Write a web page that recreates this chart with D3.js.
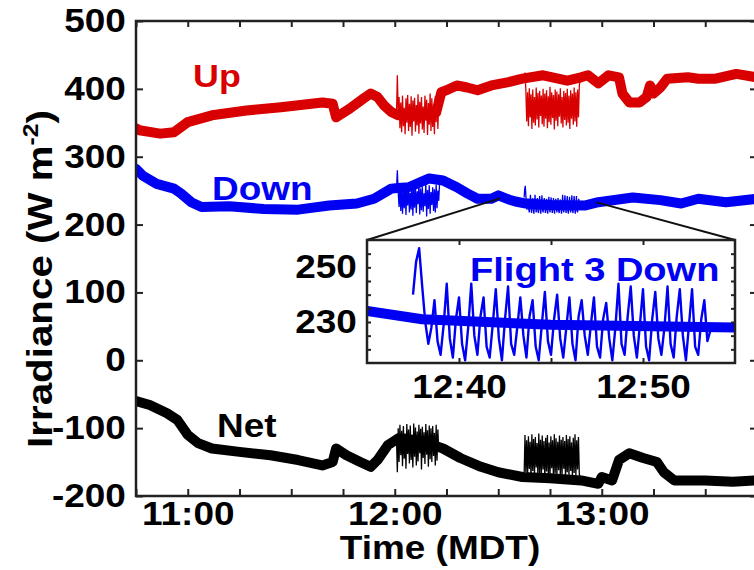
<!DOCTYPE html>
<html>
<head>
<meta charset="utf-8">
<script src="https://cdn.jsdelivr.net/npm/d3@7"></script>
<style>
  body { margin: 0; background: #fff; }
  svg text { font-family: "Liberation Sans", Arial, Helvetica, sans-serif; font-weight: bold; }
</style>
</head>
<body>
<div id="chart"></div>
<script>
// slow (thick) traces: [time MDT, W m-2]
var upBase = [["10:45",342],["10:46",339],["10:52",334],["10:56",336],["11:00",351],["11:07",361],["11:17",368],
  ["11:27",373],["11:39",380],["11:42",378],["11:43",358],["11:47",371],["11:51",386],["11:53",393],["11:55",388],
  ["11:57",375],["11:59",366],["12:01",361],["12:07",362],["12:12",365],["12:13:30",395],["12:15",398],["12:18",405],
  ["12:21",402],["12:24",398],["12:28",405],["12:33",410],["12:37",415],["12:43",420],["12:50",412],["12:54",417],
  ["12:56",420],["12:59",408],["13:02",420],["13:05",417],["13:06",393],["13:08",380],["13:11",380],["13:13",388],
  ["13:14",405],["13:15",393],["13:17",402],["13:19",415],["13:25",417],["13:28",415],["13:33",415],["13:39",422],["13:45",417]];
var downBase = [["10:45",282],["10:47",272],["10:51",260],["10:56",253],["10:58",246],["11:01",233],["11:04",226],
  ["11:12",227],["11:22",223],["11:32",222],["11:41",228],["11:49",231],["11:54",238],["11:59",253],["12:01",254],
  ["12:04",255],["12:10",268],["12:14",265],["12:18",255],["12:21",246],["12:24",238],["12:28",238],["12:30",243],
  ["12:33",237],["12:35",234],["12:38",231],["12:45",229],["12:55",228],["12:59",233],["13:09",240],["13:17",236],
  ["13:23",231],["13:28",238],["13:36",233],["13:45",238]];
var netBase = [["10:45",-60],["10:49",-66],["10:54",-78],["10:57",-88],["11:00",-110],["11:03",-122],["11:07",-130],
  ["11:15",-135],["11:24",-140],["11:32",-147],["11:39",-155],["11:42",-150],["11:43",-130],["11:46",-140],
  ["11:50",-150],["11:53",-157],["11:55",-147],["11:58",-125],["12:01",-115],["12:07",-118],["12:14",-130],
  ["12:19",-144],["12:25",-157],["12:30",-165],["12:37",-172],["12:45",-174],["12:54",-177],["12:59",-182],
  ["13:00",-172],["13:03",-177],["13:05",-147],["13:08",-137],["13:12",-144],["13:16",-150],["13:18",-165],
  ["13:21",-177],["13:30",-177],["13:38",-179],["13:45",-177]];

// fast traces during the two flights (thin lines), fixed sample step in seconds
var flight1Start = "12:00:30", flight1Step = 15;
var up1 = [360,420,365,388,342,380,336,390,345,372,333,386,350,391,338,378,344,389,331,383,352,387,337,376,346,
  392,334,381,349,388,340,374,335,390,353,384,332,379,347,393,338,386,344,377,333,389,351,395,341,385,398];
var down1 = [250,280,248,226,255,220,258,216,250,224,261,214,252,228,259,218,247,222,262,213,254,225,257,217,249,
  230,260,215,253,221,256,219,246,227,261,212,251,223,258,216,248,229,255,220,252,218,259,224,250,235,262];
var net1 = [-115,-165,-100,-150,-95,-140,-104,-156,-97,-145,-108,-160,-94,-138,-102,-152,-96,-147,-110,-158,-93,
  -142,-99,-155,-105,-149,-95,-137,-101,-161,-98,-144,-106,-153,-94,-139,-103,-157,-96,-146,-100,-150,-97,-141,
  -107,-155,-95,-148,-102,-135,-125];

var flight2Start = "12:37:30", flight2Step = 15, down2Step = 10;
var up2 = [410,424,398,352,395,345,401,358,392,341,399,350,388,346,402,355,394,343,397,360,390,348,400,344,393,
  356,398,342,389,351,403,347,395,357,391,340,399,353,396,345,392,359,401,349,388,343,397,354,394,346,400,350,
  390,341,398,356,393,347,402,352,395,344,399,358,405,412];
var net2 = [-170,-110,-165,-118,-172,-112,-160,-120,-175,-109,-163,-116,-170,-113,-158,-122,-174,-108,-166,-117,
  -171,-111,-161,-119,-176,-114,-164,-110,-169,-121,-173,-112,-159,-118,-175,-109,-167,-115,-170,-120,-162,-111,
  -174,-117,-168,-113,-160,-119,-176,-110,-165,-116,-171,-112,-163,-121,-173,-114,-166,-109,-170,-118,-161,-113,
  -168,-172];
var down2 = [240,252,257,243,230,222,228,
  238,223,218,229, 244,224,217,231, 239,222,216,228, 244,225,218,232, 239,221,217,229, 242,224,216,231,
  243,222,218,228, 239,225,217,232, 238,221,216,229, 241,223,218,231, 240,224,217,228, 239,222,216,232,
  238,225,218,229, 239,221,217,231, 237,224,216,228, 244,222,218,232, 243,225,217,229, 242,221,216,231,
  241,224,218,228, 243,222,217,232, 242,225,216,229, 242,221,218,231, 238,223,227];

var hourLabels = ["11:00","12:00","13:00"];
var yTicks = [-200,-100,0,100,200,300,400,500];
var insetXTicks = ["12:40","12:45","12:50"], insetXLabels = ["12:40","12:50"];
var insetYTicks = [220,225,230,235,240,245,250,255], insetYLabels = [230,250];
var zoomLinks = [["12:30:30",238.6],["12:58:30",232.7]];

var RED = "#d80000", BLUE = "#0000f2", BLACK = "#000";
var STRETCH = "scale(1.12,1)";

function tm(s) { var p = s.split(":"); return new Date(2013, 5, 1, +p[0], +p[1], +(p[2] || 0)); }
function base(arr) { return arr.map(function(d) { return [tm(d[0]), d[1]]; }); }
function seg(start, step, vals) {
  var t0 = tm(start).getTime();
  return vals.map(function(v, i) { return [new Date(t0 + i * step * 1000), v]; });
}

var series = [
  {base: base(upBase), fast: [seg(flight1Start, flight1Step, up1), seg(flight2Start, flight2Step, up2)], color: RED},
  {base: base(downBase), fast: [seg(flight1Start, flight1Step, down1), seg(flight2Start, down2Step, down2)], color: BLUE},
  {base: base(netBase), fast: [seg(flight1Start, flight1Step, net1), seg(flight2Start, flight2Step, net2)], color: BLACK}
];

var svg = d3.select("#chart").append("svg").attr("width", 754).attr("height", 570);

var x = d3.scaleTime().domain([tm("10:45"), tm("13:45")]).range([136, 757]);
var y = d3.scaleLinear().domain([-200, 500]).range([496, 21]);

svg.append("clipPath").attr("id", "clipMain").append("rect")
  .attr("x", 136).attr("y", 21).attr("width", 621).attr("height", 475);

var line = d3.line().x(function(d) { return x(d[0]); }).y(function(d) { return y(d[1]); });
var gMain = svg.append("g").attr("clip-path", "url(#clipMain)");

series.forEach(function(s) {
  gMain.append("path").datum(s.base).attr("d", line)
    .attr("fill", "none").attr("stroke", s.color).attr("stroke-width", 10)
    .attr("stroke-linejoin", "round").attr("stroke-linecap", "round");
  s.fast.forEach(function(f) {
    gMain.append("path").datum(f).attr("d", line)
      .attr("fill", "none").attr("stroke", s.color).attr("stroke-width", 1.3);
  });
});

// axes (ticks pointing inward on all four sides)
function styleAxis(g, size) {
  g.select(".domain").remove();
  g.selectAll("line").attr("stroke", "#222").attr("stroke-width", 2);
  g.selectAll("text").attr("font-size", size).attr("fill", "#000").attr("transform", STRETCH);
}
var minute15 = d3.timeMinute.every(15);
var fmt = d3.timeFormat("%H:%M");
var plain = function(d) { return String(d); };   // hyphen minus, like the original

svg.append("g").attr("transform", "translate(0,496)")
  .call(d3.axisBottom(x).ticks(minute15).tickSizeInner(-7).tickSizeOuter(0).tickPadding(6)
    .tickFormat(function(d) { var s = fmt(d); return hourLabels.indexOf(s) >= 0 ? s : ""; }))
  .call(styleAxis, 33);
svg.append("g").attr("transform", "translate(0,21)")
  .call(d3.axisTop(x).ticks(minute15).tickSizeInner(-6).tickSizeOuter(0).tickFormat(""))
  .call(styleAxis, 33);
svg.append("g").attr("transform", "translate(136,0)")
  .call(d3.axisLeft(y).tickValues(yTicks).tickSizeInner(-7).tickSizeOuter(0).tickPadding(9).tickFormat(plain))
  .call(styleAxis, 33);
svg.append("g").attr("transform", "translate(757,0)")
  .call(d3.axisRight(y).tickValues(yTicks).tickSizeInner(-7).tickSizeOuter(0).tickFormat(""))
  .call(styleAxis, 33);

svg.append("rect").attr("x", 136).attr("y", 21).attr("width", 621).attr("height", 475)
  .attr("fill", "none").attr("stroke", "#222").attr("stroke-width", 2.5);

// inset: Flight 3 downwelling
var xi = d3.scaleTime().domain([tm("12:35"), tm("12:55")]).range([367, 735]);
var yi = d3.scaleLinear().domain([215, 260]).range([363, 240]);

// connector lines from main trace to inset corners
var corners = [[367, 240], [735, 240]];
zoomLinks.forEach(function(z, i) {
  svg.append("line")
    .attr("x1", x(tm(z[0]))).attr("y1", y(z[1]))
    .attr("x2", corners[i][0]).attr("y2", corners[i][1])
    .attr("stroke", "#111").attr("stroke-width", 2);
});

svg.append("rect").attr("x", 367).attr("y", 240).attr("width", 368).attr("height", 123).attr("fill", "#fff");
svg.append("clipPath").attr("id", "clipInset").append("rect")
  .attr("x", 367).attr("y", 240).attr("width", 368).attr("height", 123);

var lineI = d3.line().x(function(d) { return xi(d[0]); }).y(function(d) { return yi(d[1]); });
var gIn = svg.append("g").attr("clip-path", "url(#clipInset)");
gIn.append("path").datum(series[1].base).attr("d", lineI)
  .attr("fill", "none").attr("stroke", BLUE).attr("stroke-width", 10).attr("stroke-linejoin", "round");
gIn.append("path").datum(series[1].fast[1]).attr("d", lineI)
  .attr("fill", "none").attr("stroke", BLUE).attr("stroke-width", 2.4).attr("stroke-linejoin", "round");

var insetXT = insetXTicks.map(tm);
svg.append("g").attr("transform", "translate(0,363)")
  .call(d3.axisBottom(xi).tickValues(insetXT).tickSizeInner(-5).tickSizeOuter(0).tickPadding(12)
    .tickFormat(function(d) { var s = fmt(d); return insetXLabels.indexOf(s) >= 0 ? s : ""; }))
  .call(styleAxis, 33);
svg.append("g").attr("transform", "translate(0,240)")
  .call(d3.axisTop(xi).tickValues(insetXT).tickSizeInner(-5).tickSizeOuter(0).tickFormat(""))
  .call(styleAxis, 33);
svg.append("g").attr("transform", "translate(367,0)")
  .call(d3.axisLeft(yi).tickValues(insetYTicks).tickSizeInner(-4).tickSizeOuter(0).tickPadding(9)
    .tickFormat(function(d) { return insetYLabels.indexOf(d) >= 0 ? d : ""; }))
  .call(styleAxis, 33);
svg.append("g").attr("transform", "translate(735,0)")
  .call(d3.axisRight(yi).tickValues(insetYTicks).tickSizeInner(-4).tickSizeOuter(0).tickFormat(""))
  .call(styleAxis, 33);
svg.append("rect").attr("x", 367).attr("y", 240).attr("width", 368).attr("height", 123)
  .attr("fill", "none").attr("stroke", "#222").attr("stroke-width", 2.5);

// labels
function label(txt, px, py, color, size) {
  svg.append("text").attr("transform", "translate(" + px + "," + py + ") " + STRETCH)
    .attr("font-size", size).attr("fill", color).text(txt);
}
label("Up", 193, 87, RED, 32);
label("Down", 212, 200, BLUE, 33);
label("Net", 217, 437, BLACK, 33);
label("Flight 3 Down", 470, 281, BLUE, 34);

svg.append("text").attr("transform", "translate(440,559) " + STRETCH)
  .attr("text-anchor", "middle").attr("font-size", 33).text("Time (MDT)");

var yt = svg.append("text").attr("transform", "translate(52,279) rotate(-90) " + STRETCH)
  .attr("text-anchor", "middle").attr("font-size", 36);
yt.append("tspan").text("Irradiance (W m");
yt.append("tspan").attr("font-size", 22).attr("dy", -14).text("-2");
yt.append("tspan").attr("dy", 14).text(")");
</script>
</body>
</html>
